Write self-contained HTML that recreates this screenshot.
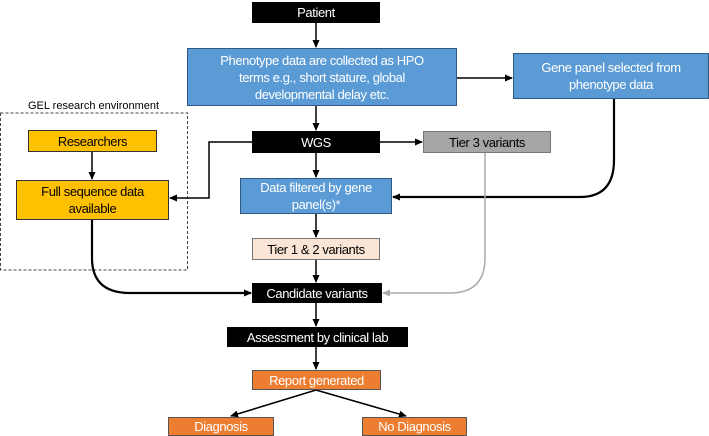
<!DOCTYPE html>
<html><head><meta charset="utf-8"><style>
body{margin:0;width:709px;height:436px;background:#fff;overflow:hidden;position:relative;font-family:"Liberation Sans",sans-serif}
.b{position:absolute;box-sizing:border-box;display:flex;align-items:center;justify-content:center;text-align:center;font-size:13px;line-height:17px;border:1.5px solid #2f4f74;letter-spacing:-0.4px;white-space:nowrap}
.k{background:#000;color:#fff;border-color:#000}
.bl{background:#5b9bd5;color:#fff;border-color:#2e5a85}
.y{background:#ffc000;color:#000;border-color:#333}
.o{background:#ed7d31;color:#fff;border-color:#555}
svg{position:absolute;left:0;top:0}
</style></head><body>
<svg width="709" height="436">
<defs>
<marker id="a" markerWidth="8" markerHeight="8" refX="7" refY="4" orient="auto" markerUnits="userSpaceOnUse"><path d="M0,0.5L8,4L0,7.5z" fill="#000"/></marker>
<marker id="g" markerWidth="8" markerHeight="8" refX="7" refY="4" orient="auto" markerUnits="userSpaceOnUse"><path d="M0,0.5L8,4L0,7.5z" fill="#aaa"/></marker>
</defs>
<rect x="0.5" y="113" width="187" height="157" fill="none" stroke="#444" stroke-dasharray="3,2"/>
<g stroke="#000" stroke-width="1.5" fill="none">
<line x1="316" y1="23" x2="316" y2="47" marker-end="url(#a)"/>
<line x1="457" y1="78" x2="512" y2="78" marker-end="url(#a)"/>
<line x1="316" y1="106" x2="316" y2="130" marker-end="url(#a)"/>
<line x1="380" y1="142" x2="422" y2="142" marker-end="url(#a)"/>
<line x1="316" y1="153" x2="316" y2="177" marker-end="url(#a)"/>
<polyline points="252,142 209,142 209,198 170,198" marker-end="url(#a)"/>
<line x1="92" y1="152" x2="92" y2="179" marker-end="url(#a)"/>
<line x1="316" y1="214" x2="316" y2="237" marker-end="url(#a)"/>
<line x1="316" y1="260" x2="316" y2="282" marker-end="url(#a)"/>
<line x1="316" y1="303" x2="316" y2="326" marker-end="url(#a)"/>
<line x1="316" y1="347" x2="316" y2="369" marker-end="url(#a)"/>
<line x1="316" y1="390" x2="231" y2="416" marker-end="url(#a)"/>
<line x1="316" y1="390" x2="406" y2="416" marker-end="url(#a)"/>
<path d="M614,99 L614,160 Q614,197 580,197 L393,197" stroke-width="2.2" marker-end="url(#a)"/>
<path d="M92,220 L92,258 Q92,293 130,293 L251,293" stroke-width="2.2" marker-end="url(#a)"/>
</g>
<path d="M485,153 L485,258 Q485,293 450,293 L383,293" stroke="#aaa" stroke-width="1.5" fill="none" marker-end="url(#g)"/>
<text x="28" y="109" font-size="11" font-family="Liberation Sans" fill="#000">GEL research environment</text>
</svg>
<div class="b k" style="left:252px;top:2px;width:128px;height:21px">Patient</div>
<div class="b bl" style="left:187px;top:48px;width:270px;height:58px">Phenotype data are collected as HPO<br>terms e.g., short stature, global<br>developmental delay etc.</div>
<div class="b bl" style="left:513px;top:53px;width:196px;height:46px">Gene panel selected from<br>phenotype data</div>
<div class="b y" style="left:28px;top:130px;width:129px;height:22px">Researchers</div>
<div class="b k" style="left:252px;top:131px;width:128px;height:22px">WGS</div>
<div class="b" style="left:423px;top:131px;width:128px;height:22px;background:#a6a6a6;border-color:#777;color:#000">Tier 3 variants</div>
<div class="b y" style="left:16px;top:180px;width:153px;height:40px">Full sequence data<br>available</div>
<div class="b bl" style="left:240px;top:178px;width:152px;height:36px">Data filtered by gene<br>panel(s)*</div>
<div class="b" style="left:252px;top:238px;width:128px;height:22px;background:#fbe5d6;border-color:#777;color:#000">Tier 1 &amp; 2 variants</div>
<div class="b k" style="left:252px;top:283px;width:130px;height:20px">Candidate variants</div>
<div class="b k" style="left:227px;top:327px;width:181px;height:20px">Assessment by clinical lab</div>
<div class="b o" style="left:252px;top:370px;width:129px;height:20px">Report generated</div>
<div class="b o" style="left:168px;top:417px;width:106px;height:19px">Diagnosis</div>
<div class="b o" style="left:362px;top:417px;width:105px;height:19px">No Diagnosis</div>
</body></html>
